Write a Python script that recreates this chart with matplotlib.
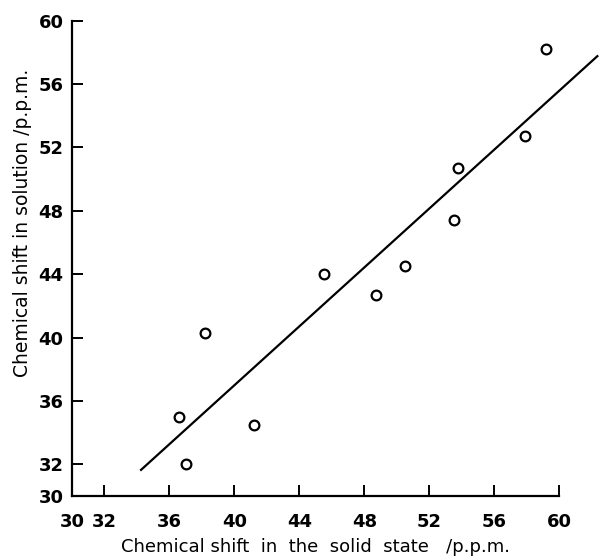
import matplotlib
matplotlib.use("Agg")
import matplotlib.pyplot as plt

# chemical shifts (p.p.m.)
solid_shift = [36.6, 37.05, 38.2, 41.2, 45.5, 48.7, 50.5, 53.5, 53.75, 57.9, 59.2]
solution_shift = [35.0, 32.0, 40.3, 34.5, 44.0, 42.7, 44.5, 47.4, 50.7, 52.7, 58.2]

# regression line end points
fit_x = [34.2, 62.4]
fit_y = [31.6, 57.8]

x_ticks = [30, 32, 36, 40, 44, 48, 52, 56, 60]
y_ticks = [30, 32, 36, 40, 44, 48, 52, 56, 60]

plt.rcParams["font.family"] = ["DejaVu Sans"]

fig = plt.figure(figsize=(6.0, 5.6), dpi=100)
ax = fig.add_axes([0.12, 0.1143, 0.812, 0.849])

ax.plot(fit_x, fit_y, color="black", linewidth=1.6, clip_on=False, solid_capstyle="butt")
ax.plot(solid_shift, solution_shift, linestyle="none", marker="o", markersize=7,
        markerfacecolor="white", markeredgecolor="black", markeredgewidth=1.6, clip_on=False)

ax.set_xlim(30, 60)
ax.set_ylim(30, 60)
ax.set_xticks(x_ticks)
ax.set_yticks(y_ticks)
ax.set_xticklabels([str(t) for t in x_ticks], fontsize=13, fontweight="bold")
ax.set_yticklabels([str(t) for t in y_ticks], fontsize=13, fontweight="bold")

for side in ["top", "right"]:
    ax.spines[side].set_visible(False)
for side in ["left", "bottom"]:
    ax.spines[side].set_linewidth(1.6)

ax.tick_params(axis="x", direction="in", length=8, width=1.4, pad=12)
ax.tick_params(axis="y", direction="in", length=8, width=1.4, pad=6)

ax.set_xlabel("Chemical shift  in  the  solid  state   /p.p.m.", fontsize=13,
              fontweight="medium", labelpad=5)
ax.set_ylabel("Chemical shift in solution /p.p.m.", fontsize=13.5,
              fontweight="medium", labelpad=4)
ax.yaxis.set_label_coords(-0.083, 0.575)

fig.savefig("out.png", dpi=100)
